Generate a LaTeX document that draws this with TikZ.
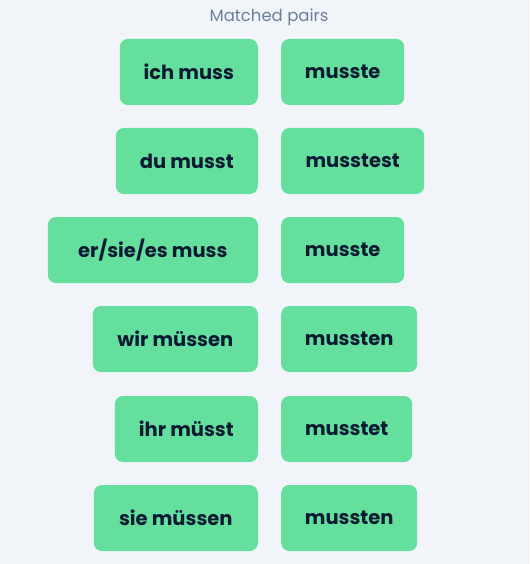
\documentclass[tikz,border=0pt]{standalone}
\usepackage{fontspec}
\setmainfont{Poppins}
\definecolor{bgblue}{HTML}{F1F5FA}
\definecolor{pairgreen}{HTML}{64DF9D}
\definecolor{inkblue}{HTML}{0B1A33}
\definecolor{titlegray}{HTML}{6E7F99}
\tikzset{
  pairbox/.style={fill=pairgreen, rounded corners=8pt, minimum height=66pt,
    inner sep=0pt, text=inkblue, font=\fontsize{19.5}{22}\selectfont\bfseries}
}
\begin{document}
\begin{tikzpicture}[x=1pt, y=-1pt]
        \fill[bgblue] (0,0) rectangle (530,564);
        \useasboundingbox (0,0) rectangle (530,564);

        % title
        \node[text=titlegray, font=\fontsize{16.5}{19}\selectfont] (title) at (269,17) {Matched pairs};

        % left column: pronoun forms
        \foreach \i/\yy/\bw/\txt in {1/72/138/ich muss, 2/161/142/du musst, 3/250/210/{er/sie/es muss},
            4/339/165/wir müssen, 5/429/143/ihr müsst, 6/518/164/sie müssen}
          \node[pairbox, anchor=east, minimum width=\bw pt] (left\i) at (258,\yy) {\txt};

        % right column: past tense
        \foreach \i/\yy/\bw/\txt in {1/72/123/musste, 2/161/143/musstest, 3/250/123/musste,
            4/339/136/mussten, 5/429/131/musstet, 6/518/136/mussten}
          \node[pairbox, anchor=west, minimum width=\bw pt] (right\i) at (281,\yy) {\txt};
      \end{tikzpicture}
\end{document}
